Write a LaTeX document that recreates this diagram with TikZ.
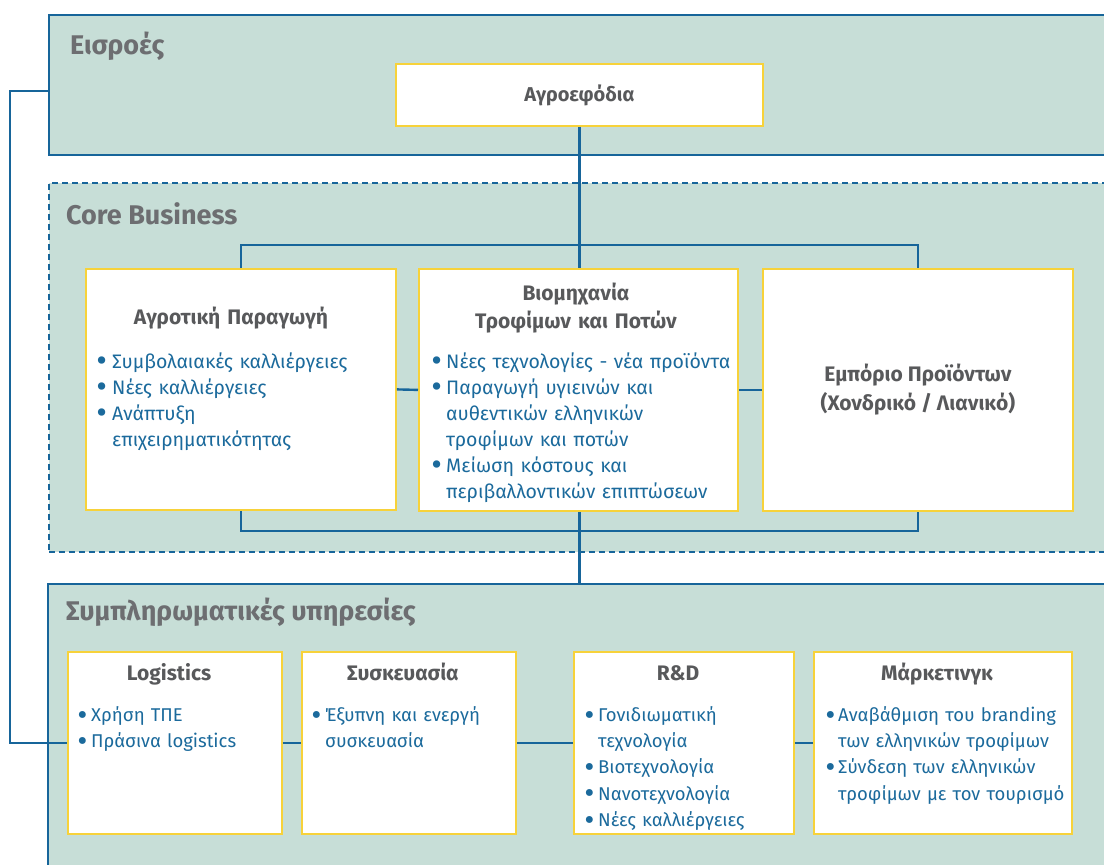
\documentclass[tikz,border=0pt]{standalone}
\usepackage{fontspec}
\setmainfont{Fira Sans}
\definecolor{pfill}{HTML}{C7DED7}
\definecolor{pblue}{HTML}{17659A}
\definecolor{pyel}{HTML}{F7D23A}
\definecolor{ptitlec}{HTML}{6D6E71}
\definecolor{btitlec}{HTML}{58595B}
\definecolor{btextc}{HTML}{1B6A9C}
\newlength\bind
\setlength\bind{14pt}
\newcommand\bl[1]{\par\noindent\hangindent=\bind\hangafter=1\makebox[\bind][l]{\raisebox{-0.1em}{\scalebox{1.35}{\bfseries•}}}#1}
\newcommand\blst[2]{\setlength\bind{#1}#2\par}
\begin{document}
\begin{tikzpicture}[x=1pt,y=-1pt,
 panel/.style={fill=pfill,draw=pblue,line width=2.4pt,inner sep=0pt,anchor=north west},
 box/.style={fill=white,draw=pyel,line width=1.8pt,inner sep=0pt,anchor=north west},
 conn/.style={draw=pblue,line width=2.4pt},
 ptitle/.style={font=\fontsize{27}{30}\selectfont\bfseries,text=ptitlec,anchor=base west,inner sep=0pt},
 btitle/.style={font=\fontsize{21}{28}\selectfont\bfseries,text=btitlec,anchor=base,inner sep=0pt,align=center,text width=300pt},
 blist/.style={font=\fontsize{19.5}{26}\selectfont,text=btextc,anchor=base west,inner sep=0pt,text width=300pt,align=left},
 blistb/.style={blist,font=\fontsize{18.5}{26.25}\selectfont},
]
\useasboundingbox (0,0) rectangle (1104,865);
\clip (0,0) rectangle (1104,865);
% panels
\node[panel,minimum width=1080pt,minimum height=140pt] (inp) at (48,14) {};
\node[panel,dash pattern=on 6pt off 4pt,minimum width=1080pt,minimum height=369pt] (core) at (48,182) {};
\node[panel,minimum width=1080pt,minimum height=300pt] (sup) at (47,583) {};
% boxes
\node[box,minimum width=367pt,minimum height=62pt,font=\fontsize{20}{28}\selectfont\bfseries,text=btitlec] (agro) at (395,63) {Αγροεφόδια};
\node[box,minimum width=310pt,minimum height=241pt] (agri) at (85,268) {};
\node[box,minimum width=319pt,minimum height=242pt] (ind) at (418,268) {};
\node[box,minimum width=310pt,minimum height=242pt,font=\fontsize{21}{29}\selectfont\bfseries,text=btitlec,align=center] (emp) at (762,268) {Εμπόριο Προϊόντων\\(Χονδρικό / Λιανικό)};
\node[box,minimum width=214pt,minimum height=182pt] (log) at (67,651) {};
\node[box,minimum width=214pt,minimum height=182pt] (pack) at (301,651) {};
\node[box,minimum width=220pt,minimum height=182pt] (rd) at (573,651) {};
\node[box,minimum width=258pt,minimum height=182pt] (mkt) at (813,651) {};
% connectors
\coordinate (t1) at (585,245);
\coordinate (b1) at (585,531);
\coordinate (lt) at (10,91);
\draw[conn] (agro.south) -- (agro.south |- ind.north);
\draw[conn] (agri.north) |- (t1) -| (emp.north);
\draw[conn] (agri.south) |- (b1) -| (emp.south);
\draw[conn] (ind.south -| agro.south) -- (sup.north -| agro.south);
\draw[conn] (agri.east) -- (ind.west);
\draw[conn] (ind.east) -- (emp.west);
\draw[conn] (lt -| inp.west) -- (lt) |- (log.west);
\draw[conn] (log.east) -- (pack.west);
\draw[conn] (pack.east) -- (rd.west);
\draw[conn] (rd.east) -- (mkt.west);
% panel titles
\node[ptitle] (tin) at (70,54) {Εισροές};
\node[ptitle] (tcore) at (66,224) {Core Business};
\node[ptitle] (tsup) at (66,620) {Συμπληρωματικές υπηρεσίες};
% core texts
\node[btitle] (agriT) at (231,324) {Αγροτική Παραγωγή};
\node[blist] (agriL) at (97,342) {\blst{15pt}{\bl{Συμβολαιακές καλλιέργειες}\bl{Νέες καλλιέργειες}\bl{Ανάπτυξη\newline επιχειρηματικότητας}}};
\node[btitle] (indT) at (576,300) {Βιομηχανία\\Τροφίμων και Ποτών};
\node[blist] (indL) at (432,342) {\blst{14pt}{\bl{Νέες τεχνολογίες - νέα προϊόντα}\bl{Παραγωγή υγιεινών και\newline αυθεντικών ελληνικών\newline τροφίμων και ποτών}\bl{Μείωση κόστους και\newline περιβαλλοντικών επιπτώσεων}}};
% bottom texts
\node[btitle] (logT) at (169,680) {Logistics};
\node[blistb] (logL) at (78,695) {\blst{13pt}{\bl{Χρήση ΤΠΕ}\bl{Πράσινα logistics}}};
\node[btitle] (packT) at (403,680) {Συσκευασία};
\node[blistb] (packL) at (312,695) {\blst{13pt}{\bl{Έξυπνη και ενεργή\newline συσκευασία}}};
\node[btitle] (rdT) at (678,680) {R\&D};
\node[blistb] (rdL) at (585,695) {\blst{13pt}{\bl{Γονιδιωματική\newline τεχνολογία}\bl{Βιοτεχνολογία}\bl{Νανοτεχνολογία}\bl{Νέες καλλιέργειες}}};
\node[btitle] (mktT) at (937,680) {Μάρκετινγκ};
\node[blistb] (mktL) at (826,695) {\blst{12pt}{\bl{Αναβάθμιση του branding\newline των ελληνικών τροφίμων}\bl{Σύνδεση των ελληνικών\newline τροφίμων με τον τουρισμό}}};
\end{tikzpicture}
\end{document}
